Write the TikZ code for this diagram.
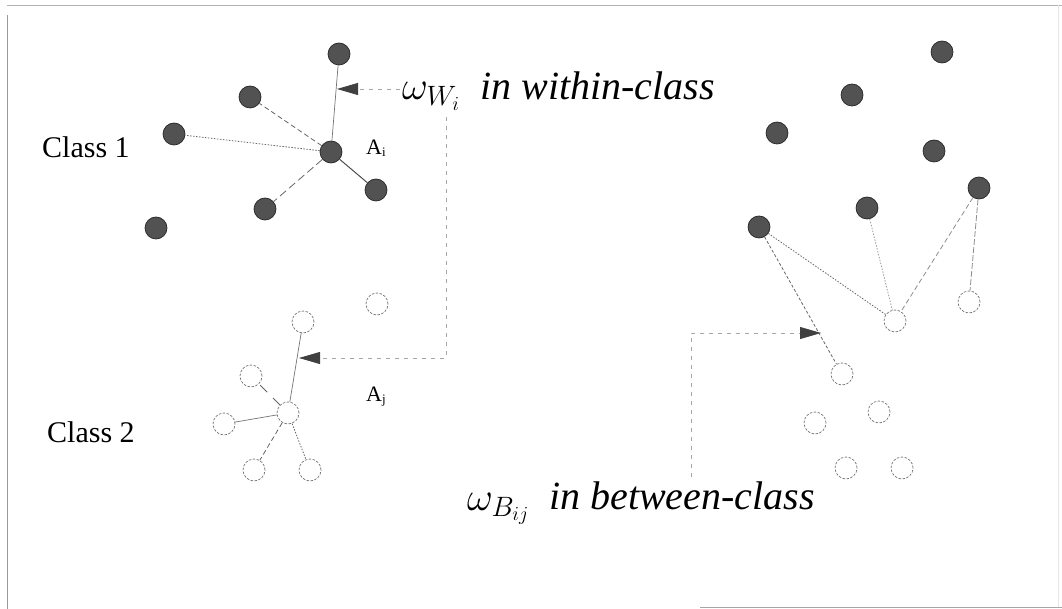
\RequirePackage{fix-cm}
\documentclass[tikz,border=0pt]{standalone}
\usepackage{fontspec}
\setmainfont{Liberation Serif}
\usetikzlibrary{arrows.meta}
\tikzset{
  fullpt/.style={circle, draw=black!85, fill=black!68, minimum size=22pt, inner sep=0pt, line width=0.7pt},
  hollowpt/.style={circle, draw=black!55, dash pattern=on 2.5pt off 1.5pt, minimum size=22pt, inner sep=0pt, line width=0.7pt},
  solidlink/.style={draw=black!55, line width=0.7pt},
  darklink/.style={draw=black!70, line width=1pt},
  dashlink/.style={draw=black!60, line width=0.8pt, dash pattern=on 5pt off 3pt},
  dotlink/.style={draw=black!60, line width=0.8pt, dash pattern=on 1.5pt off 1.5pt},
  guide/.style={draw=black!35, line width=0.8pt, dash pattern=on 4pt off 5pt},
  pointer/.style={guide, -{Triangle[length=21pt,width=12pt,fill=black!75,color=black!75]}},
  classlab/.style={font=\fontsize{30}{34}\selectfont, anchor=base west, inner sep=0pt},
  biglab/.style={font=\fontsize{40}{46}\selectfont\itshape, anchor=base west, inner sep=0pt},
  ptlab/.style={font=\fontsize{22}{26}\selectfont, anchor=base west, inner sep=0pt}
}
\begin{document}
\begin{tikzpicture}[x=1pt,y=-1pt]
\useasboundingbox (0,0) rectangle (1062,609);
% frame
\draw[black!40, line width=0.8pt] (7,609) -- (7,15);
\draw[black!30, line width=0.8pt] (7,5) -- (1062,5);
\draw[black!35, line width=0.8pt] (700,607) -- (1062,607);
\draw[black!10, line width=0.6pt] (1058,5) -- (1058,607);

% Class 1
\node[fullpt] (a1) at (339,54) {};
\node[fullpt] (a2) at (250,97) {};
\node[fullpt] (a3) at (174,134) {};
\node[fullpt] (Ai) at (331,152) {};
\node[fullpt] (a5) at (376,190) {};
\node[fullpt] (a6) at (265,209) {};
\node[fullpt] (a7) at (156,228) {};
\draw[solidlink] (Ai) -- (a1);
\draw[dashlink] (Ai) -- (a2);
\draw[dotlink] (Ai) -- (a3);
\draw[darklink] (Ai) -- (a5);
\draw[dashlink, dash pattern=on 8pt off 4pt] (Ai) -- (a6);
\node[classlab] (cl1) at (42,158) {Class 1};
\node[ptlab] (Ailab) at (366,155) {A\raisebox{-2pt}{\fontsize{13}{13}\selectfont i}};

% Class 2
\node[hollowpt] (b1) at (377,304) {};
\node[hollowpt] (b2) at (303,322) {};
\node[hollowpt] (b3) at (251,376) {};
\node[hollowpt] (Aj) at (288,413) {};
\node[hollowpt] (b5) at (224,424) {};
\node[hollowpt] (b6) at (254,470) {};
\node[hollowpt] (b7) at (310,470) {};
\draw[solidlink] (Aj) -- (b2);
\draw[solidlink] (Aj) -- (b5);
\draw[dashlink, dash pattern=on 10pt off 8pt] (Aj) -- (b3);
\draw[dashlink] (Aj) -- (b6);
\draw[dotlink] (Aj) -- (b7);
\node[classlab] (cl2) at (47,442) {Class 2};
\node[ptlab] (Ajlab) at (366,401) {A\raisebox{-2pt}{\fontsize{13}{13}\selectfont j}};

% right cluster, filled
\node[fullpt] (c1) at (942,52) {};
\node[fullpt] (c2) at (852,95) {};
\node[fullpt] (c3) at (777,133) {};
\node[fullpt] (c4) at (934,151) {};
\node[fullpt] (c5) at (979,188) {};
\node[fullpt] (c6) at (867,208) {};
\node[fullpt] (c7) at (759,227) {};
% right cluster, hollow
\node[hollowpt] (d1) at (969,302) {};
\node[hollowpt] (d2) at (895,321) {};
\node[hollowpt] (d3) at (842,374) {};
\node[hollowpt] (d4) at (879,412) {};
\node[hollowpt] (d5) at (815,423) {};
\node[hollowpt] (d6) at (846,468) {};
\node[hollowpt] (d7) at (902,468) {};
\draw[dotlink] (c7) -- (d2);
\draw[dotlink, dash pattern=on 3pt off 2pt] (c7) -- (d3);
\draw[dotlink, draw=black!40] (c6) -- (d2);
\draw[dashlink, draw=black!45] (c5) -- (d2);
\draw[dashlink, draw=black!45, dash pattern=on 6pt off 2pt] (c5) -- (d1);

% labels
\node[biglab] (omW) at (402,100) {$\omega_{W_i}$};
\node[biglab] (txW) at (480,100) {in within-class};
\node[biglab] (omB) at (467,510) {$\omega_{B_{ij}}$};
\node[biglab] (txB) at (549,509) {in between-class};

% pointers
\coordinate (wstart) at (400,89);
\coordinate (wtip) at (337,89);
\coordinate (wdown) at (446,117);
\coordinate (wcorner) at (446,358);
\coordinate (wtip2) at (299,358);
\coordinate (bstart) at (691,477);
\coordinate (bcorner) at (691,333);
\coordinate (btip) at (821,333);
\draw[pointer] (wstart) -- (wtip);
\draw[pointer] (wdown) -- (wcorner) -- (wtip2);
\draw[pointer] (bstart) -- (bcorner) -- (btip);
\end{tikzpicture}
\end{document}
